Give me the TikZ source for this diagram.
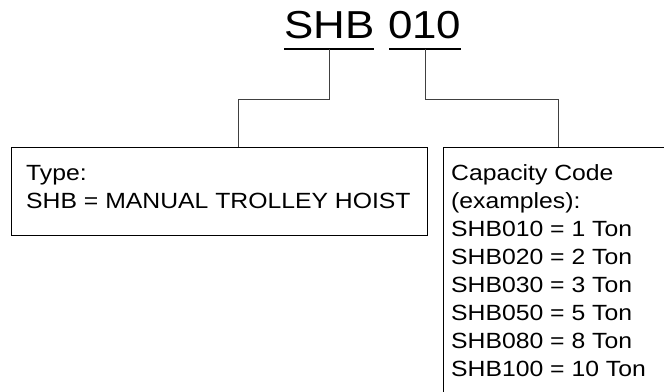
\documentclass[tikz,border=0pt]{standalone}
\usepackage{fontspec}
\setmainfont[FakeStretch=1.125]{Liberation Sans}
\begin{document}
\begin{tikzpicture}[x=1pt,y=-1pt,
  title/.style={inner sep=0pt,font=\fontsize{39}{44}\selectfont},
  body/.style={inner sep=0pt,align=left,font=\fontsize{22}{28}\selectfont},
  boxs/.style={draw=black,line width=1.1pt,inner sep=0pt},
  uline/.style={draw=black,line width=1.2pt},
  conn/.style={draw=black!75,line width=1pt}]
\useasboundingbox (0,0) rectangle (664,391);
\clip (0,0) rectangle (664,391);
% title
\node[title,anchor=base west] (shb) at (284,38) {SHB};
\node[title,anchor=base west] (num) at (388,38) {010};
\coordinate (u1l) at (284,49);
\coordinate (u1r) at (374,49);
\coordinate (u2l) at (389,49);
\coordinate (u2r) at (461,49);
\draw[uline] (u1l) -- (u1r);
\draw[uline] (u2l) -- (u2r);
\coordinate (u1m) at (329,49);
\coordinate (u2m) at (425,49);
% boxes
\node[boxs,anchor=north west,minimum width=416pt,minimum height=88pt] (typebox) at (11,146.5) {};
\node[boxs,anchor=north west,minimum width=260pt,minimum height=280pt] (capbox) at (443,146.5) {};
\node[body,anchor=base west] (typetext) at (26,208) {Type:\\SHB = MANUAL TROLLEY HOIST};
\node[body,anchor=base west] (captext) at (451,376) {Capacity Code\\(examples):\\SHB010 = 1 Ton\\SHB020 = 2 Ton\\SHB030 = 3 Ton\\SHB050 = 5 Ton\\SHB080 = 8 Ton\\SHB100 = 10 Ton};
% connectors
\coordinate (j1) at (238,99);
\coordinate (j2) at (558,99);
\draw[conn] (u1m) |- (j1) -- (j1 |- typebox.north);
\draw[conn] (u2m) |- (j2) -- (j2 |- capbox.north);
\end{tikzpicture}
\end{document}
